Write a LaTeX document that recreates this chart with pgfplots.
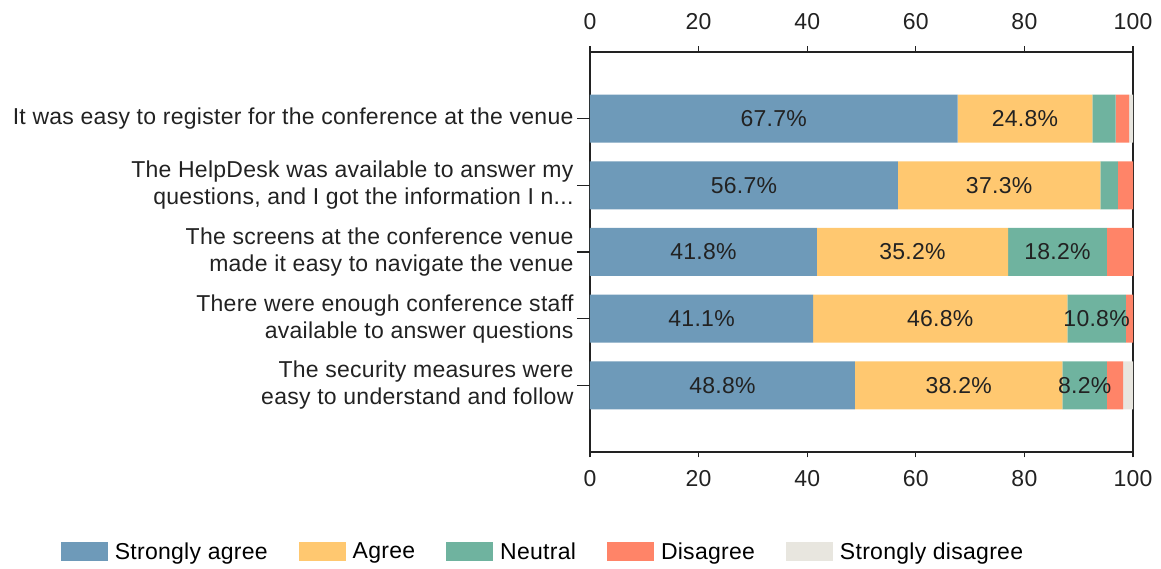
\documentclass[border=0pt]{standalone}
\usepackage{fontspec}
\setmainfont{Liberation Sans}[LetterSpace=1.2]
\usepackage{pgfplots}
\usepackage{pgfplotstable}
\pgfplotsset{compat=1.18}

\definecolor{csa}{HTML}{6E9AB9}
\definecolor{cag}{HTML}{FFC870}
\definecolor{cne}{HTML}{6FB39F}
\definecolor{cdi}{HTML}{FF8468}
\definecolor{csd}{HTML}{E8E6DF}
\definecolor{ink}{HTML}{222222}

% rows listed bottom-up (cat 4 is the top bar)
\pgfplotstableread{
cat SA A N D SD
4 67.7 24.8 4.3 2.5 0.7
3 56.7 37.3 3.2 2.8 0
2 41.8 35.2 18.2 4.8 0
1 41.1 46.8 10.8 1.3 0
0 48.8 38.2 8.2 3.0 1.8
}\survey

\pgfplotsset{
  seg/.style 2 args={fill=#1, draw=none,
    visualization depends on={\thisrow{#2}\as\rawv}},
}

\begin{document}
\begin{tikzpicture}[font=\fontsize{23}{27}\selectfont]
\path[use as bounding box] (-590pt,-117pt) rectangle (571pt,452pt);
\begin{axis}[
    at={(0,0)}, anchor=south west,
    scale only axis, width=543pt, height=400pt,
    xbar stacked, bar width=48pt,
    xmin=0, xmax=100, ymin=-1, ymax=5,
    xtick={0,20,...,100}, xtick pos=both, ytick=\empty,
    tick align=outside, major tick length=5.5pt,
    tick style={ink, line width=1.2pt},
    axis line style={ink, line width=1.2pt},
    /pgf/number format/assume math mode=true,
    tick label style={text=ink},
    xticklabel style={yshift=-9pt},
    point meta=explicit,
    % only segments of 8% and more carry a label
    nodes near coords={\pgfmathparse{\rawv<8 ? 0 : 1}\ifdim\pgfmathresult pt>0.5pt\pgfmathprintnumber[fixed,precision=1,fixed zerofill]{\rawv}\%\fi},
    every node near coord/.append style={anchor=center, text=ink},
    legend columns=-1,
    legend style={at={(axis description cs:-0.0866,-0.249)}, anchor=center, draw=none,
        /tikz/every even column/.append style={column sep=29pt},
        /tikz/every odd column/.append style={column sep=5pt}},
    legend image code/.code={\fill[#1] (0pt,-9.5pt) rectangle (47pt,9.5pt);},
]
\addplot[seg={csa}{SA}] table[x=SA, y=cat, meta=SA] {\survey};
\addplot[seg={cag}{A}] table[x=A, y=cat, meta=A] {\survey};
\addplot[seg={cne}{N}] table[x=N, y=cat, meta=N] {\survey};
\addplot[seg={cdi}{D}] table[x=D, y=cat, meta=D] {\survey};
\addplot[seg={csd}{SD}] table[x=SD, y=cat, meta=SD] {\survey};
\legend{Strongly agree, Agree, Neutral, Disagree, Strongly disagree}
\end{axis}
% second axis: numbers above the box, long y ticks and the question labels
\begin{axis}[
    at={(0,0)}, anchor=south west,
    scale only axis, width=543pt, height=400pt,
    xmin=0, xmax=100, ymin=-1, ymax=5,
    axis x line*=top, axis y line*=left,
    axis line style={draw=none},
    xtick={0,20,...,100}, ytick={0,...,4},
    major tick length=13pt, tick align=outside,
    xtick style={draw=none},
    ytick style={ink, line width=1.2pt},
    /pgf/number format/assume math mode=true,
    tick label style={text=ink},
    xticklabel style={yshift=6pt},
    yticklabels={{The security measures were\\easy to understand and follow},
                 {There were enough conference staff\\available to answer questions},
                 {The screens at the conference venue\\made it easy to navigate the venue},
                 {The HelpDesk was available to answer my\\questions, and I got the information I n.{}.{}.},
                 {It was easy to register for the conference at the venue}},
    yticklabel style={align=right},
]
\end{axis}
\end{tikzpicture}
\end{document}
